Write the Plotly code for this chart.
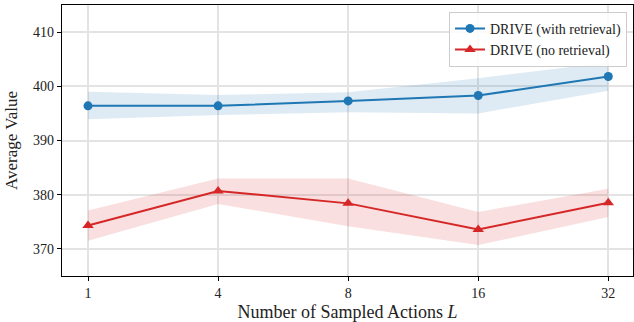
import plotly.graph_objects as go

categories = ["1", "4", "8", "16", "32"]
with_retrieval = [396.4, 396.4, 397.3, 398.3, 401.8]
with_upper = [399.0, 398.4, 398.9, 401.5, 404.4]
with_lower = [393.9, 394.7, 395.2, 395.0, 399.2]
no_retrieval = [374.3, 380.7, 378.4, 373.6, 378.5]
no_upper = [377.1, 383.0, 383.0, 376.8, 381.1]
no_lower = [371.5, 378.3, 374.2, 370.7, 375.9]

BLUE = "#1f77b4"
RED = "#d62728"
FONT = "Liberation Serif"

fig = go.Figure()

def band(upper, lower, color):
    fig.add_trace(go.Scatter(x=categories, y=upper, mode="lines", line=dict(width=0),
                             showlegend=False, hoverinfo="skip"))
    fig.add_trace(go.Scatter(x=categories, y=lower, mode="lines", line=dict(width=0),
                             fill="tonexty", fillcolor=color, showlegend=False, hoverinfo="skip"))

band(with_upper, with_lower, "rgba(31,119,180,0.15)")
band(no_upper, no_lower, "rgba(214,39,40,0.15)")

fig.add_trace(go.Scatter(x=categories, y=with_retrieval, mode="lines+markers",
                         name="DRIVE (with retrieval)",
                         line=dict(color=BLUE, width=2),
                         marker=dict(symbol="circle", size=9, color=BLUE)))
fig.add_trace(go.Scatter(x=categories, y=no_retrieval, mode="lines+markers",
                         name="DRIVE (no retrieval)",
                         line=dict(color=RED, width=2),
                         marker=dict(symbol="triangle-up", size=10, color=RED)))

fig.update_layout(
    width=634, height=322,
    margin=dict(l=62, r=1, t=5, b=46),
    paper_bgcolor="white", plot_bgcolor="white",
    font=dict(family=FONT, size=14, color="#222"),
    legend=dict(x=0.9895, y=0.975, xanchor="right", yanchor="top",
                traceorder="normal",
                bgcolor="rgba(255,255,255,0.85)", bordercolor="#cccccc", borderwidth=1,
                font=dict(family=FONT, size=14, color="#222"),
                tracegroupgap=0, itemwidth=30),
)
fig.update_xaxes(
    type="category", range=[-0.2, 4.19],
    showline=True, linecolor="black", linewidth=1.2, mirror=True,
    ticks="outside", ticklen=4, tickcolor="black",
    showgrid=True, gridcolor="#e3e3e3", gridwidth=1.5,
    tickfont=dict(family=FONT, size=14, color="#222"),
    title=dict(text="Number of Sampled Actions <i>L</i>", font=dict(family=FONT, size=18, color="#222"), standoff=8),
    automargin=False,
)
fig.update_yaxes(
    range=[365, 415], tickvals=[370, 380, 390, 400, 410],
    showline=True, linecolor="black", linewidth=1.2, mirror=True,
    ticks="outside", ticklen=4, tickcolor="black",
    showgrid=True, gridcolor="#e3e3e3", gridwidth=1.5, zeroline=False,
    tickfont=dict(family=FONT, size=14, color="#222"),
    title=dict(text="Average Value", font=dict(family=FONT, size=17, color="#222"), standoff=11),
    automargin=False,
)

fig.write_html("out.html")
